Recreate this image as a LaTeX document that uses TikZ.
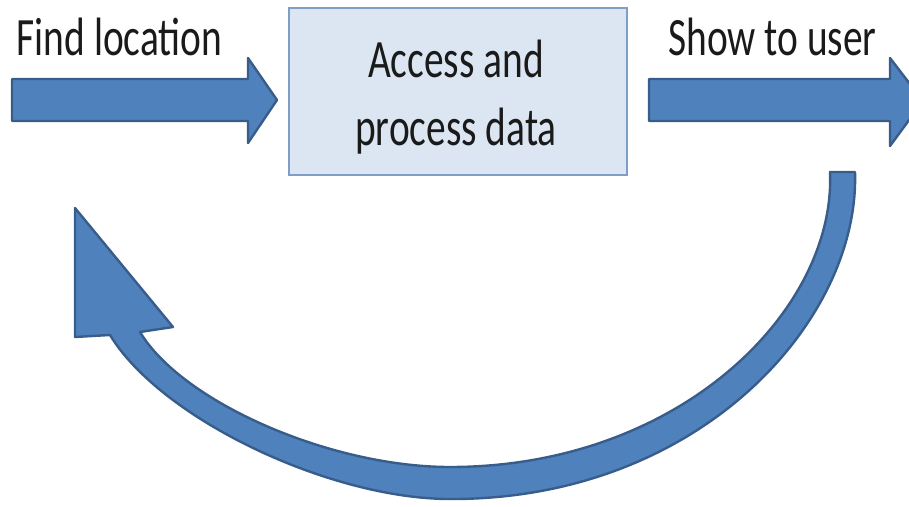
\documentclass[tikz,border=0pt]{standalone}
\usepackage{fontspec}
\newfontfamily\lblfont{Carlito}[FakeStretch=0.73]
\definecolor{arrowfill}{HTML}{4F81BD}
\definecolor{arrowedge}{HTML}{385D8A}
\definecolor{boxfill}{HTML}{DCE6F2}
\definecolor{boxedge}{HTML}{7F9DC9}
\definecolor{txt}{HTML}{1A1A1A}
\tikzset{
  blockarrow/.style={fill=arrowfill, draw=arrowedge, line width=2.4pt, line join=round},
  lbl/.style={font=\lblfont\fontsize{54}{68}\selectfont, text=txt, inner sep=0pt},
  procbox/.style={rectangle, fill=boxfill, draw=boxedge, line width=1.3pt, inner sep=0pt}
}
\begin{document}
\begin{tikzpicture}[x=1pt,y=-1pt]
\useasboundingbox (0,0) rectangle (909,506);
% process box
\node[procbox, minimum width=338pt, minimum height=167pt] (box) at (458,91.5) {};
\node[lbl, align=center, anchor=base] (boxtxt) at (456,145) {Access and\\process data};
% labels
\node[lbl, anchor=base] (findlbl) at (119.5,55) {Find location};
\node[lbl, anchor=base] (showlbl) at (772.5,55) {Show to user};
% left straight arrow
\draw[blockarrow] (12,79) -- (248,79) -- (248,58) -- (277,100) -- (248,143) -- (248,121) -- (12,121) -- cycle;
% right straight arrow
\draw[blockarrow] (649,79) -- (890,79) -- (890,58) -- (923,101) -- (890,146) -- (890,121) -- (649,121) -- cycle;
% curved return arrow
\draw[blockarrow]
  (830,172) -- (855,172)
  .. controls (860,320) and (700,500) .. (450,499)
  .. controls (330,499) and (161,419) .. (110,335)
  -- (75,337) -- (75,208) -- (173,327) -- (140,332)
  .. controls (182,402) and (330,467) .. (450,467)
  .. controls (680,467) and (836,310) .. (830,172)
  -- cycle;
\end{tikzpicture}
\end{document}
